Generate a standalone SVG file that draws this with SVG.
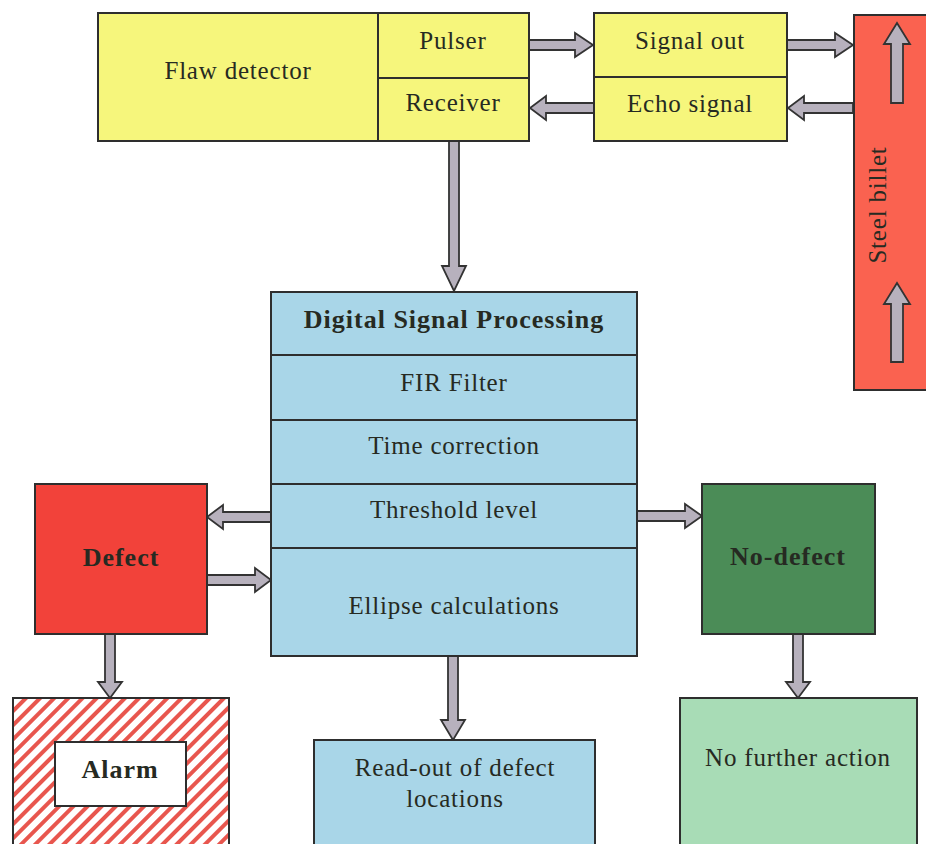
<svg xmlns="http://www.w3.org/2000/svg" width="926" height="844" viewBox="0 0 926 844">
<defs>
<pattern id="hatch" patternUnits="userSpaceOnUse" width="10" height="10" patternTransform="rotate(45)">
<rect width="10" height="10" fill="#ffffff"/>
<rect x="0" y="0" width="4" height="10" fill="#e8564e"/>
</pattern>
</defs>
<style>
.box{stroke:#2e2e2e;stroke-width:2}
.yel{fill:#f6f67c}
.blu{fill:#a9d6e8}
.arr{fill:#b7b1bd;stroke:#333;stroke-width:1.8;stroke-linejoin:miter}
text{font-family:"Liberation Serif","Times New Roman",serif;font-size:25px;letter-spacing:0.8px;fill:#262a22;text-anchor:middle}
.b{font-weight:bold;font-size:26px;letter-spacing:1px}
</style>
<rect width="926" height="844" fill="#ffffff"/>

<g id="connectors">
<polygon class="arr" points="529,40 575,40 575,33 593,45 575,57 575,50 529,50"/>
<polygon class="arr" points="787,40 835,40 835,33 853,45 835,57 835,50 787,50"/>
<polygon class="arr" points="853,103 804,103 804,96 788,108 804,120 804,113 853,113"/>
<polygon class="arr" points="594,103 546,103 546,96 530,108 546,120 546,113 594,113"/>
<polygon class="arr" points="449,141 459,141 459,266 466,266 454,291 442,266 449,266"/>
<polygon class="arr" points="271,512 223,512 223,505 207,517 223,529 223,522 271,522"/>
<polygon class="arr" points="207,575 255,575 255,568 271,580 255,592 255,585 207,585"/>
<polygon class="arr" points="637,511 685,511 685,504 702,516 685,528 685,521 637,521"/>
<polygon class="arr" points="105,634 115,634 115,682 122,682 110,698 98,682 105,682"/>
<polygon class="arr" points="793,634 803,634 803,682 810,682 798,698 786,682 793,682"/>
<polygon class="arr" points="448,656 458,656 458,720 465,720 453,740 441,720 448,720"/>
</g>

<g id="flaw-detector">
<rect class="box yel" x="98" y="13" width="280" height="128"/>
<text x="238" y="79">Flaw detector</text>
</g>
<g id="pulser">
<rect class="box yel" x="378" y="13" width="151" height="65"/>
<text x="453" y="49">Pulser</text>
</g>
<g id="receiver">
<rect class="box yel" x="378" y="78" width="151" height="63"/>
<text x="453" y="111">Receiver</text>
</g>
<g id="signal-out">
<rect class="box yel" x="594" y="13" width="193" height="64"/>
<text x="690" y="49">Signal out</text>
</g>
<g id="echo-signal">
<rect class="box yel" x="594" y="77" width="193" height="64"/>
<text x="690" y="112">Echo signal</text>
</g>

<g id="steel-billet">
<rect class="box" x="854" y="15" width="80" height="375" fill="#fa6250"/>
<polygon class="arr" points="891,103 903,103 903,44 910,44 897,23 884,44 891,44"/>
<polygon class="arr" points="891,362 903,362 903,304 910,304 897,283 884,304 891,304"/>
<text transform="translate(886,205) rotate(-90)">Steel billet</text>
</g>

<g id="dsp">
<rect class="box blu" x="271" y="292" width="366" height="63"/>
<text class="b" x="454" y="328">Digital Signal Processing</text>
<rect class="box blu" x="271" y="355" width="366" height="65"/>
<text x="454" y="391">FIR Filter</text>
<rect class="box blu" x="271" y="420" width="366" height="64"/>
<text x="454" y="454">Time correction</text>
<rect class="box blu" x="271" y="484" width="366" height="64"/>
<text x="454" y="518">Threshold level</text>
<rect class="box blu" x="271" y="548" width="366" height="108"/>
<text x="454" y="614">Ellipse calculations</text>
</g>

<g id="defect">
<rect class="box" x="35" y="484" width="172" height="150" fill="#f2423a"/>
<text class="b" x="121" y="566" fill="#3a1a14">Defect</text>
</g>

<g id="no-defect">
<rect class="box" x="702" y="484" width="173" height="150" fill="#4b8c57"/>
<text class="b" x="788" y="565" fill="#1e2e1e">No-defect</text>
</g>

<g id="alarm">
<rect class="box" x="13" y="698" width="216" height="160" fill="url(#hatch)"/>
<rect class="box" x="55" y="742" width="131" height="64" fill="#ffffff"/>
<text class="b" x="120" y="778">Alarm</text>
</g>

<g id="read-out">
<rect class="box blu" x="314" y="740" width="281" height="120"/>
<text x="455" y="776">Read-out of defect</text>
<text x="455" y="807">locations</text>
</g>

<g id="no-further-action">
<rect class="box" x="680" y="698" width="237" height="160" fill="#a8dcb6"/>
<text x="798" y="766">No further action</text>
</g>
</svg>
